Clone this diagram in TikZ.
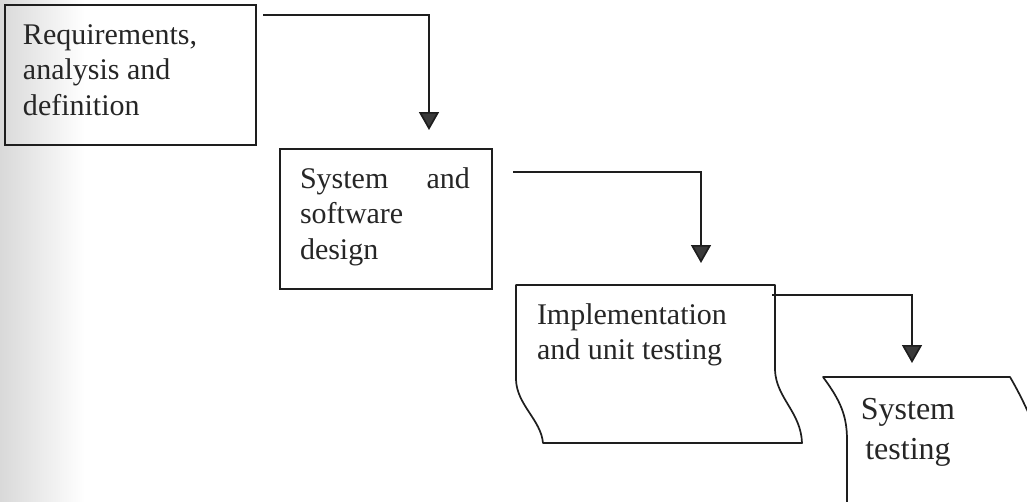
\documentclass[tikz,border=0pt]{standalone}
\usepackage{fontspec}
\setmainfont{Liberation Serif}
\usetikzlibrary{arrows.meta}
\definecolor{inkc}{HTML}{1E1E1E}
\definecolor{headc}{HTML}{3A3A3A}
\definecolor{txtc}{HTML}{262626}
\begin{document}
\begin{tikzpicture}[x=1pt,y=-1pt,
  line width=1.7pt,
  ink/.style={draw=inkc},
  boxtext/.style={font=\fontsize{30}{35.5}\selectfont, text=txtc, inner sep=0pt, outer sep=0pt},
  stagebox/.style={ink, rectangle, inner sep=0pt},
  flow/.style={ink, -{Triangle[width=20pt,length=18pt,fill=headc]}},
]
\useasboundingbox (0,0) rectangle (1027,501);
\fill[white] (0,0) rectangle (1027,501);
\shade[left color=black!15, right color=white] (0,0) rectangle (85,501);

% stage 1
\node[stagebox, minimum width=251pt, minimum height=140pt] (req) at (130.5,75) {};
\node[boxtext, anchor=north west, align=left] (reqt) at (23,24.5) {Requirements,\\analysis and\\definition};

% stage 2
\node[stagebox, minimum width=212pt, minimum height=140pt] (des) at (386,219) {};
\node[boxtext, anchor=north west, align=left, text width=170pt] (dest) at (300,167.5) {System\hfill and\\software\\design};

% stage 3 (wavy sheet)
\draw[ink, line join=round] (516,285) -- (775,285) -- (775,370)
  .. controls (776,398) and (801,412) .. (802,443) -- (543,443)
  .. controls (541,420) and (517,405) .. (516,380) -- cycle;
\node[boxtext, anchor=north west, align=left] (impt) at (537,303.5) {Implementation\\and unit testing};

% stage 4 (wavy sheet, cut by the page edge)
\begin{scope}
\clip (0,0) rectangle (1027,501);
\draw[ink, line join=round] (847,510) -- (847,440)
  .. controls (847,415) and (840,400) .. (823,377) -- (1010,377)
  .. controls (1020,394) and (1030,415) .. (1040,440);
\end{scope}
\node[boxtext, font=\fontsize{32}{40}\selectfont, anchor=north, align=center] (tst) at (908,398) {System\\testing};

% connectors
\coordinate (c1s) at (263,15);
\coordinate (c1e) at (429,130);
\coordinate (c2s) at (513,172);
\coordinate (c2e) at (701,263);
\coordinate (c3s) at (772,295);
\coordinate (c3e) at (912,363);
\draw[flow] (c1s) -| (c1e);
\draw[flow] (c2s) -| (c2e);
\draw[flow] (c3s) -| (c3e);
\end{tikzpicture}
\end{document}
